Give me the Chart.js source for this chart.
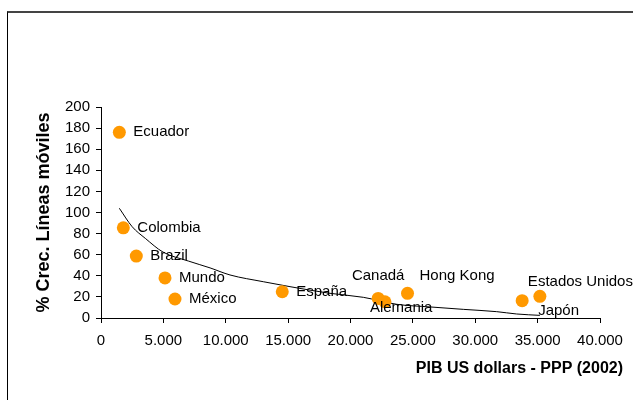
<!DOCTYPE html>
<html>
<head>
<meta charset="utf-8">
<script src="https://cdn.jsdelivr.net/npm/chart.js@4.4.1/dist/chart.umd.min.js"></script>
<style>
  body { margin: 0; background: #fff; overflow: hidden; }
  #wrap { position: relative; width: 633px; height: 400px; }
  #frame {
    position: absolute; left: 7px; top: 11px; width: 700px; height: 420px;
    border-top: 2px solid #444; border-left: 1px solid #000; pointer-events: none;
  }
</style>
</head>
<body>
<div id="wrap">
  <div id="frame"></div>
  <canvas id="scatterChart"></canvas>
</div>
<script>
// datos
const countries = ['Ecuador', 'Colombia', 'Brazil', 'Mundo', 'México', 'España',
                   'Canadá', 'Alemania', 'Hong Kong', 'Japón', 'Estados Unidos'];
const gdpPPP = [1470, 1790, 2830, 5130, 5930, 14530, 22220, 22760, 24570, 33760, 35180];
const growthMobile = [176, 85.5, 58.7, 38, 18, 24.9, 18.6, 15.4, 23.4, 16.4, 20.5];

// trend line
const trendX = [1470, 2500, 3550, 4970, 7000, 8740, 10340, 13010, 15150, 18360,
                21030, 23700, 26370, 29040, 31720, 33320, 35180];
const trendY = [104, 86.5, 75.5, 62.5, 54, 47.5, 40.8, 34.4, 29.7, 23.4,
                19.6, 13, 10.5, 8.2, 6, 3.8, 2.5];

const xTicks = { min: 0, max: 40000, step: 5000 };
const yTicks = { min: 0, max: 200, step: 20 };

// where each label sits relative to its point
const labelPlace = {
  'Canadá': { dx: 0, dy: -23, align: 'center' },
  'Hong Kong': { dx: 12, dy: -17, align: 'left' },
  'Alemania': { dx: -15, dy: 6, align: 'left' },
  'Estados Unidos': { dx: -12, dy: -15, align: 'left' },
  'Japón': { dx: 16, dy: 10, align: 'left' }
};

const FONT = '"Liberation Sans", Arial, sans-serif';

function fmtThousands(v) {
  return String(v).replace(/\B(?=(\d{3})+(?!\d))/g, '.');
}

const pointLabels = {
  id: 'pointLabels',
  afterDatasetsDraw(chart) {
    const ctx = chart.ctx;
    const meta = chart.getDatasetMeta(0);
    ctx.save();
    ctx.font = '15px ' + FONT;
    ctx.fillStyle = '#000';
    ctx.textBaseline = 'middle';
    meta.data.forEach((el, i) => {
      const name = countries[i];
      const p = labelPlace[name] || { dx: 14, dy: 0, align: 'left' };
      ctx.textAlign = p.align;
      ctx.fillText(name, el.x + p.dx, el.y + p.dy);
    });

    // x axis title, right aligned past the plot edge like the original
    ctx.font = 'bold 16px ' + FONT;
    ctx.textAlign = 'right';
    ctx.fillText('PIB US dollars - PPP (2002)', 623, 369);
    ctx.restore();
  }
};

const axisGrid = {
  display: true,
  drawOnChartArea: false,
  drawTicks: true,
  tickLength: 5,
  color: '#000'
};

new Chart(document.getElementById('scatterChart'), {
  type: 'scatter',
  data: {
    datasets: [
      {
        label: 'Países',
        data: gdpPPP.map((x, i) => ({ x: x, y: growthMobile[i] })),
        backgroundColor: '#FF9900',
        borderWidth: 0,
        pointRadius: 6.5,
        order: 0
      },
      {
        label: 'Tendencia',
        data: trendX.map((x, i) => ({ x: x, y: trendY[i] })),
        showLine: true,
        borderColor: '#000',
        borderWidth: 1,
        pointRadius: 0,
        cubicInterpolationMode: 'monotone',
        order: 1
      }
    ]
  },
  options: {
    responsive: true,
    maintainAspectRatio: false,
    animation: false,
    layout: { padding: { left: 20, top: 107, right: 33, bottom: 0 } },
    plugins: {
      legend: { display: false },
      tooltip: { enabled: false }
    },
    scales: {
      x: {
        type: 'linear',
        min: xTicks.min,
        max: xTicks.max,
        grid: axisGrid,
        border: { display: true, color: '#000', width: 1 },
        ticks: {
          stepSize: xTicks.step,
          color: '#000',
          padding: 9,
          maxRotation: 0,
          font: { family: FONT, size: 15 },
          callback: v => fmtThousands(v)
        },
        afterFit: s => { s.height = 82; }
      },
      y: {
        type: 'linear',
        min: yTicks.min,
        max: yTicks.max,
        grid: axisGrid,
        border: { display: true, color: '#000', width: 1 },
        ticks: {
          stepSize: yTicks.step,
          color: '#000',
          padding: 6,
          font: { family: FONT, size: 15 }
        },
        title: {
          display: true,
          text: '% Crec. Líneas móviles',
          color: '#000',
          padding: { top: 13, bottom: 0 },
          font: { family: FONT, size: 18, weight: 'bold' }
        },
        afterFit: s => { s.width = 81; }
      }
    }
  },
  plugins: [pointLabels]
});
</script>
</body>
</html>
